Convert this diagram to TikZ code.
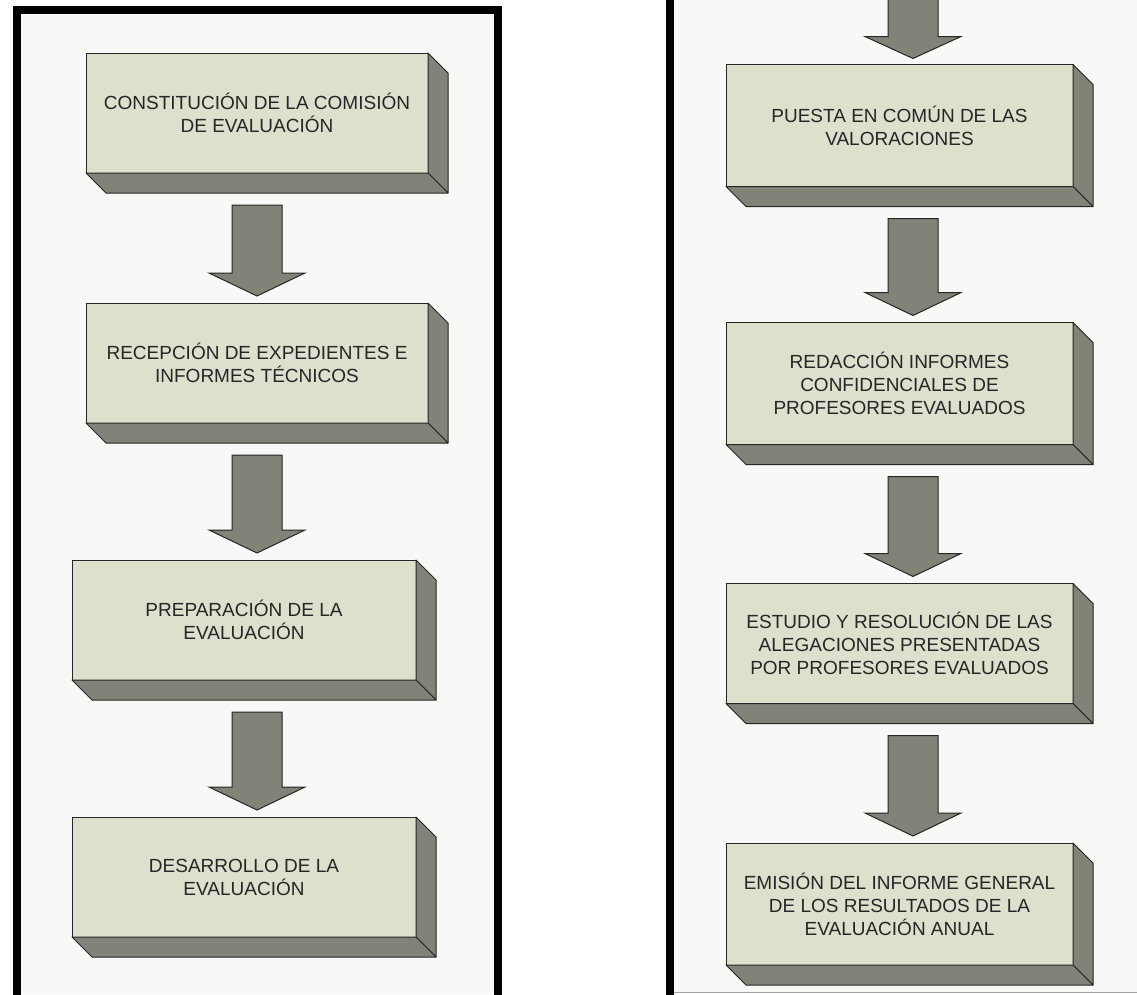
\documentclass[tikz,border=0pt]{standalone}
\usepackage{fontspec}
\setmainfont{Liberation Sans}
\usetikzlibrary{calc}

\definecolor{boxface}{RGB}{221,224,204}
\definecolor{boxside}{RGB}{128,131,120}
\definecolor{panelbg}{RGB}{248,248,246}
\definecolor{edgeline}{RGB}{38,38,36}

\newcommand{\boxdepth}[1]{%
  \filldraw[sideface] (#1.north east) -- ++(20,20) -- ($(#1.south east)+(20,20)$) -- (#1.south east) -- cycle;
  \filldraw[sideface] (#1.south west) -- (#1.south east) -- ($(#1.south east)+(20,20)$) -- ($(#1.south west)+(20,20)$) -- cycle;}
\newcommand{\flowarrow}[3]{%
  \filldraw[blockarrow] ($(#1 |- #2.south)+(-25,32)$) -- ($(#1 |- #2.south)+(25,32)$)
    -- ($(#1 |- #3.north)+(25,-30)$) -- ($(#1 |- #3.north)+(48,-30)$)
    -- ($(#1 |- #3.north)+(0,-7)$) -- ($(#1 |- #3.north)+(-48,-30)$)
    -- ($(#1 |- #3.north)+(-25,-30)$) -- cycle;}

\begin{document}
\begin{tikzpicture}[x=1pt,y=-1pt,
  stepbox/.style={draw=edgeline, fill=boxface, line width=1pt, inner sep=0pt, outer sep=0pt,
    align=center, text=black!85, font=\fontsize{19}{23}\selectfont},
  sideface/.style={draw=edgeline, fill=boxside, line width=1pt, line join=round},
  blockarrow/.style={draw=edgeline, fill=boxside, line width=1pt}]
\useasboundingbox (0,0) rectangle (1137,994);
\fill[white] (0,0) rectangle (1137,994);
\fill[panelbg] (17,10) rectangle (498,994);
\draw[black, line width=8pt] (17,1000) -- (17,10) -- (498,10) -- (498,1000);
\fill[panelbg] (670,-2) rectangle (1137,992);
\draw[black!35, line width=1pt] (670,992) -- (1137,992);
\draw[black, line width=8pt] (670,-4) -- (670,1000);
\coordinate (lcol) at (257,0);
\coordinate (rcol) at (913,0);
\coordinate (rtop) at (913,-4);

\node[stepbox, minimum width=342pt, minimum height=120pt] (l1) at (257,113) {CONSTITUCIÓN DE LA COMISIÓN\\DE EVALUACIÓN};
\node[stepbox, minimum width=342pt, minimum height=120pt] (l2) at (257,363) {RECEPCIÓN DE EXPEDIENTES E\\INFORMES TÉCNICOS};
\node[stepbox, minimum width=344pt, minimum height=120pt] (l3) at (244,620) {PREPARACIÓN DE LA\\EVALUACIÓN};
\node[stepbox, minimum width=344pt, minimum height=120pt] (l4) at (244,877) {DESARROLLO DE LA\\EVALUACIÓN};
\boxdepth{l1}
\boxdepth{l2}
\boxdepth{l3}
\boxdepth{l4}
\flowarrow{lcol}{l1}{l2}
\flowarrow{lcol}{l2}{l3}
\flowarrow{lcol}{l3}{l4}

\node[stepbox, minimum width=347pt, minimum height=122pt] (r1) at (899.5,125.5) {PUESTA EN COMÚN DE LAS\\VALORACIONES};
\node[stepbox, minimum width=347pt, minimum height=122pt] (r2) at (899.5,383.5) {REDACCIÓN INFORMES\\CONFIDENCIALES DE\\PROFESORES EVALUADOS};
\node[stepbox, minimum width=347pt, minimum height=120pt] (r3) at (899.5,643.5) {ESTUDIO Y RESOLUCIÓN DE LAS\\ALEGACIONES PRESENTADAS\\POR PROFESORES EVALUADOS};
\node[stepbox, minimum width=347pt, minimum height=122pt] (r4) at (899.5,904) {EMISIÓN DEL INFORME GENERAL\\DE LOS RESULTADOS DE LA\\EVALUACIÓN ANUAL};
\boxdepth{r1}
\boxdepth{r2}
\boxdepth{r3}
\boxdepth{r4}
\filldraw[blockarrow] (rtop) ++(-25,0) -- ($(rtop)+(25,0)$)
  -- ($(rcol |- r1.north)+(25,-28)$) -- ($(rcol |- r1.north)+(48,-28)$)
  -- ($(rcol |- r1.north)+(0,-6)$) -- ($(rcol |- r1.north)+(-48,-28)$)
  -- ($(rcol |- r1.north)+(-25,-28)$) -- cycle;
\flowarrow{rcol}{r1}{r2}
\flowarrow{rcol}{r2}{r3}
\flowarrow{rcol}{r3}{r4}
\end{tikzpicture}
\end{document}
